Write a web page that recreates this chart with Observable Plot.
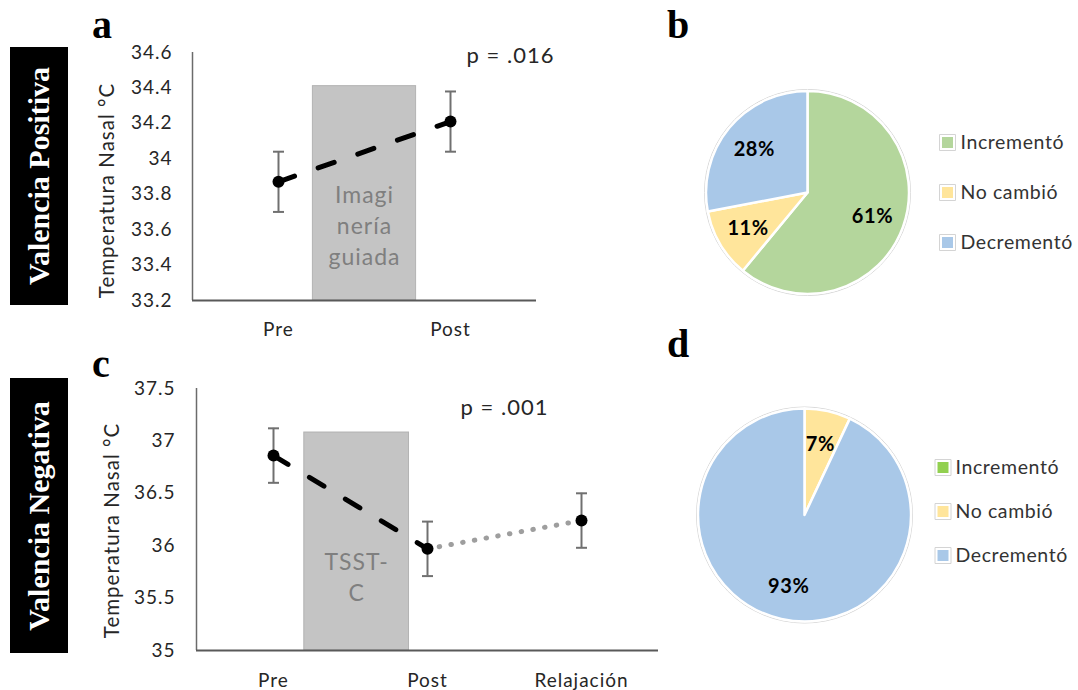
<!DOCTYPE html>
<html>
<head>
<meta charset="utf-8">
<script src="https://cdn.jsdelivr.net/npm/d3@7"></script>
<script src="https://cdn.jsdelivr.net/npm/@observablehq/plot@0.6"></script>
<style>
html, body { margin: 0; padding: 0; background: #fff; }
#fig { position: relative; width: 1078px; height: 690px; overflow: hidden; background: #fff; font-family: Lato, sans-serif; }
#fig svg text { letter-spacing: 1px; }
#fig svg.pie text { letter-spacing: 0.6px; }
.plot { position: absolute; }
.letter { position: absolute; font-family: "Liberation Serif", "Times New Roman", serif; font-weight: bold; font-size: 40px; line-height: 1; color: #000; }
.band { position: absolute; background: #000; display: flex; align-items: center; justify-content: center; }
.band span { display: block; transform: rotate(-90deg); white-space: nowrap; color: #fff; font-family: "Liberation Serif", "Times New Roman", serif; font-weight: bold; font-size: 30px; }
</style>
</head>
<body>
<div id="fig"></div>
<script>
// ---------- data ----------
const catsA = ["Pre", "Post"];
const meanA = [33.87, 34.21];
const seA = [0.17, 0.17];
const ticksA = [33.2, 33.4, 33.6, 33.8, 34, 34.2, 34.4, 34.6];
const domainA = [33.2, 34.6];
const boxA = {x1: 0.2, x2: 0.8, y2: 34.41, label: "Imagi\nnería\nguiada"};
const pTextA = "p = .016";

const catsC = ["Pre", "Post", "Relajación"];
const meanC = [36.86, 35.97, 36.24];
const seC = [0.26, 0.26, 0.26];
const ticksC = [35, 35.5, 36, 36.5, 37, 37.5];
const domainC = [35, 37.5];
const boxC = {x1: 0.2, x2: 0.88, y2: 37.08, label: "TSST-\nC"};
const pTextC = "p = .001";

const yLabel = "Temperatura Nasal °C";
const pieCats = ["Incrementó", "No cambió", "Decrementó"];
const pieB = [61, 11, 28];
const pieD = [0, 7, 93];
const colorsB = ["#b4d69c", "#ffe59b", "#a9c8e8"];
const colorsD = ["#92d050", "#ffe59b", "#a9c8e8"];
const bandLabels = ["Valencia Positiva", "Valencia Negativa"];
const panelLetters = ["a", "b", "c", "d"];

// ---------- helpers ----------
const fig = document.getElementById("fig");
function place(el, left, top) {
  el.classList.add("plot");
  el.style.left = left + "px";
  el.style.top = top + "px";
  fig.appendChild(el);
}
const capSym = { draw(ctx, size) { const s = Math.sqrt(size / Math.PI); ctx.moveTo(-s, 0); ctx.lineTo(s, 0); } };
const squareSym = { draw(ctx, size) { const s = Math.sqrt(size / Math.PI); ctx.rect(-s, -s, 2 * s, 2 * s); } };
const txt = "#262626";

function lineChart(o) {
  const data = o.cats.map((c, i) => ({i, cat: c, m: o.mean[i], se: o.se[i]}));
  const marks = [
    Plot.rect([o.box], {x1: "x1", x2: "x2", y1: () => o.domain[0], y2: "y2", fill: "#c4c4c4", stroke: "#b3b3b3", strokeWidth: 1}),
    Plot.text([o.box], {x: d => (d.x1 + d.x2) / 2, y: d => (o.domain[0] + d.y2) / 2, text: "label", lineHeight: 1.35, fontSize: 23, fill: "#7f7f7f", dy: o.boxDy}),
    Plot.ruleX([-0.5], {stroke: "#6b6b6b", strokeWidth: 1.5}),
    Plot.ruleY([o.domain[0]], {stroke: "#595959", strokeWidth: 2}),
    Plot.axisY({ticks: o.ticks, tickFormat: d => String(d), tickSize: 0, tickPadding: o.tickPadY, label: null, fontSize: 19, fill: txt}),
    Plot.axisX({ticks: o.cats.map((c, i) => i), tickFormat: i => o.cats[i], tickSize: 0, tickPadding: o.tickPadX, label: null, fontSize: 19, fill: txt}),
    Plot.text([yLabel], {frameAnchor: "left", textAnchor: "middle", rotate: -90, dx: o.labDx, dy: o.labDy, fontSize: 20.5, fill: txt, text: d => d}),
    Plot.text([o.pText], {x: () => o.pX, y: () => o.domain[1], text: d => d, dx: o.pDx, dy: o.pDy, fontSize: 22, fill: txt}),
    Plot.ruleX(data, {x: "i", y1: d => d.m - d.se, y2: d => d.m + d.se, stroke: "#707070", strokeWidth: 2}),
    Plot.dot(data, {x: "i", y: d => d.m + d.se, symbol: capSym, r: 5.5, stroke: "#707070", strokeWidth: 2, fill: "none"}),
    Plot.dot(data, {x: "i", y: d => d.m - d.se, symbol: capSym, r: 5.5, stroke: "#707070", strokeWidth: 2, fill: "none"}),
    Plot.line(data.slice(0, 2), {x: "i", y: "m", stroke: "#000", strokeWidth: 5, strokeDasharray: "17,25", strokeLinecap: "round"})
  ];
  if (data.length > 2) {
    marks.push(Plot.line(data.slice(1), {x: "i", y: "m", stroke: "#9e9e9e", strokeWidth: 5, strokeDasharray: "0.5,11.4", strokeLinecap: "round"}));
  }
  marks.push(Plot.dot(data, {x: "i", y: "m", r: 6, fill: "#000"}));
  return Plot.plot({
    width: o.width, height: o.height,
    marginLeft: o.ml, marginRight: o.mr, marginTop: o.mt, marginBottom: o.mb,
    x: {domain: [-0.5, o.cats.length - 0.5]},
    y: {domain: o.domain},
    style: {fontFamily: "Lato, sans-serif", color: txt, background: "transparent", overflow: "visible"},
    marks
  });
}

function pieChart(vals, colors, o) {
  const data = pieCats.map((c, i) => ({cat: c, v: vals[i]}));
  const render = (index, scales, values, dims) => {
    const arcs = d3.pie().sort(null).value(d => d.v)(data);
    const arc = d3.arc().innerRadius(0).outerRadius(o.R);
    const lab = d3.arc().innerRadius(o.R * 0.68).outerRadius(o.R * 0.68);
    const g = d3.create("svg:g").attr("transform", `translate(${o.cx},${o.cy})`);
    g.append("circle").attr("r", o.R + 1.5).attr("fill", "none").attr("stroke", "#d6d6d6").attr("stroke-width", 1);
    const shown = arcs.filter(a => a.data.v > 0);
    g.selectAll("path").data(shown).join("path")
      .attr("d", arc).attr("fill", a => scales.color(a.data.cat))
      .attr("stroke", "#fff").attr("stroke-width", 2.5).attr("stroke-linejoin", "round");
    g.selectAll("text").data(shown).join("text")
      .attr("transform", a => `translate(${lab.centroid(a)})`)
      .attr("text-anchor", "middle").attr("dy", "0.35em")
      .attr("font-family", "Lato, sans-serif").attr("font-weight", "bold").attr("font-size", 20)
      .attr("fill", "#000").text(a => a.data.v + "%");
    return g.node();
  };
  const svg = Plot.plot({
    width: o.width, height: o.height, margin: 0,
    y: {type: "point", padding: 0, domain: pieCats, range: o.legendRange, axis: null},
    color: {domain: pieCats, range: colors},
    style: {fontFamily: "Lato, sans-serif", color: txt, background: "transparent", overflow: "visible"},
    marks: [
      render,
      Plot.dot(data, {y: "cat", frameAnchor: "left", dx: o.swX, symbol: squareSym, r: 8, fill: "#fff", stroke: "#d4d4d4", strokeWidth: 1}),
      Plot.dot(data, {y: "cat", frameAnchor: "left", dx: o.swX, symbol: squareSym, r: 5.5, fill: "cat"}),
      Plot.text(data, {y: "cat", frameAnchor: "left", dx: o.txX, text: "cat", textAnchor: "start", fontSize: 19.5, fill: "#333"})
    ]
  });
  svg.classList.add("pie");
  return svg;
}

// ---------- decorations ----------
[[bandLabels[0], 10, 47, 58, 258], [bandLabels[1], 10, 378, 58, 275]].forEach(([t, l, tp, w, h]) => {
  const d = document.createElement("div");
  d.className = "band";
  Object.assign(d.style, {left: l + "px", top: tp + "px", width: w + "px", height: h + "px"});
  const s = document.createElement("span");
  s.textContent = t;
  d.appendChild(s);
  fig.appendChild(d);
});
[[panelLetters[0], 92, 5], [panelLetters[1], 667, 5], [panelLetters[2], 92, 344], [panelLetters[3], 667, 324]].forEach(([t, l, tp]) => {
  const d = document.createElement("div");
  d.className = "letter";
  d.style.left = l + "px"; d.style.top = tp + "px";
  d.textContent = t;
  fig.appendChild(d);
});

// ---------- charts ----------
place(lineChart({cats: catsA, mean: meanA, se: seA, ticks: ticksA, domain: domainA, box: boxA, pText: pTextA,
  width: 600, height: 345, ml: 192, mr: 64, mt: 52, mb: 45, tickPadY: 20, tickPadX: 22, boxDy: 31,
  labDx: -85, labDy: 14, pX: 1, pDx: 60, pDy: 3}), 0, 0);

place(lineChart({cats: catsC, mean: meanC, se: seC, ticks: ticksC, domain: domainC, box: boxC, pText: pTextC,
  width: 700, height: 350, ml: 196, mr: 42, mt: 48, mb: 40, tickPadY: 21, tickPadX: 23, boxDy: 34,
  labDx: -84, labDy: 11, pX: 1.5, pDx: 0, pDy: 19}), 0, 340);

place(pieChart(pieB, colorsB, {width: 386, height: 225, cx: 117.5, cy: 112.5, R: 101.5, legendRange: [62, 162], swX: 257, txX: 270}), 690, 80);
place(pieChart(pieD, colorsD, {width: 386, height: 230, cx: 114.5, cy: 115, R: 106.5, legendRange: [67, 155], swX: 252.5, txX: 265}), 690, 400);
</script>
</body>
</html>
